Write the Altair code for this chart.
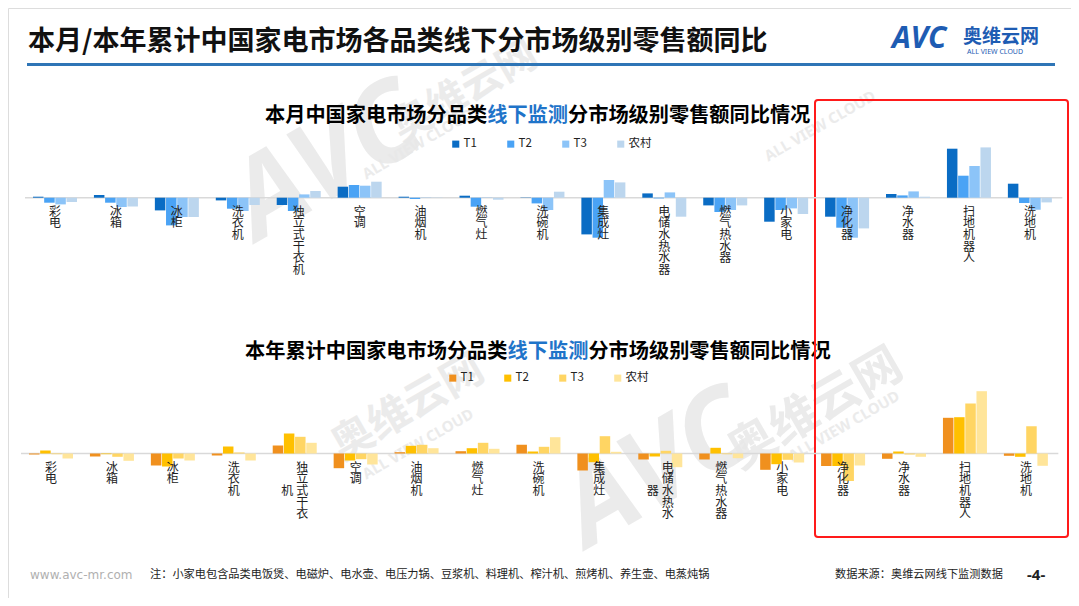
import altair as alt
import pandas as pd

# ---------------- data ----------------
categories = ["彩电", "冰箱", "冰柜", "洗衣机", "独立式干衣机", "空调", "油烟机", "燃气灶", "洗碗机",
              "集成灶", "电储水热水器", "燃气热水器", "小家电", "净化器", "净水器", "扫地机器人", "洗地机"]
series = ["T1", "T2", "T3", "农村"]

# 本月 (month) year-on-year values, per market tier
month_T1 = [1.0, 2.7, -12.7, -2.7, -7.3, 11.0, 1.0, 2.0, -0.3, -36.7, 4.3, -7.7, -24.0, -19.0, 3.7, 49.0, 14.0]
month_T2 = [-5.0, -5.0, -27.7, -11.0, -13.3, 12.7, -1.3, -9.0, -5.7, -40.0, -0.7, -14.3, -12.3, -30.0, 2.3, 22.0, -5.3]
month_T3 = [-6.7, -9.3, -19.3, -13.3, 3.3, 12.0, 0.3, -0.3, -12.3, 17.7, 5.3, -12.3, -10.7, -40.0, 6.3, 31.7, -12.0]
month_rural = [-4.3, -8.7, -19.3, -7.3, 6.7, 16.0, -0.3, -2.0, 6.0, 15.3, -19.0, -7.7, -16.3, -30.7, 1.0, 50.3, -4.7]

# 本年累计 (year to date) year-on-year values
ytd_T1 = [-1.0, -3.0, -12.0, -2.0, 8.0, -14.7, 1.3, 2.3, 8.7, -17.0, -6.0, -6.0, -16.3, -12.5, -5.3, 35.7, -2.3]
ytd_T2 = [3.0, -0.7, -13.0, 7.0, 20.0, -7.0, 7.7, 5.3, 2.0, -8.7, -3.0, 5.7, -10.7, -12.5, 2.0, 36.3, -3.3]
ytd_T3 = [-0.7, -3.3, -5.0, 1.0, 16.7, -5.7, 8.7, 10.7, 6.7, 17.3, 2.7, -0.7, -6.3, -27.5, -1.0, 50.0, 27.3]
ytd_rural = [-5.0, -7.3, -7.0, -7.0, 10.7, -11.0, 5.3, 4.7, 16.3, 1.7, -13.7, -4.7, -9.0, -12.0, -3.3, 62.3, -12.3]

main_title = "本月/本年累计中国家电市场各品类线下分市场级别零售额同比"
top_title = ["本月中国家电市场分品类", "线下监测", "分市场级别零售额同比情况"]
bottom_title = ["本年累计中国家电市场分品类", "线下监测", "分市场级别零售额同比情况"]
site_text = "www.avc-mr.com"
note_text = "注：小家电包含品类电饭煲、电磁炉、电水壶、电压力锅、豆浆机、料理机、榨汁机、煎烤机、养生壶、电蒸炖锅"
source_text = "数据来源：奥维云网线下监测数据"
page_text = "-4-"
logo_mark = "AVC"
logo_cn = "奥维云网"
logo_en = "ALL VIEW CLOUD"

blues = ["#0a6cc4", "#4aa3f5", "#8cc4f8", "#bcd6ee"]
oranges = ["#f0901e", "#ffc000", "#ffd563", "#ffe59a"]

W, H = 1063, 590
FONT = "Noto Sans CJK SC"
LH = 11.7


def long_df(vals):
    rows = []
    for s, arr in zip(series, vals):
        for c, v in zip(categories, arr):
            rows.append({"cat": c, "series": s, "value": v})
    return pd.DataFrame(rows)


def one(text):
    return pd.DataFrame({"t": [text]})


def text_layer(text, x, y, size, color="#000", bold=False, align="left", italic=False,
               font=FONT, angle=None, opacity=None):
    kw = dict(align=align, baseline="middle", fontSize=size, color=color, font=font)
    if bold:
        kw["fontWeight"] = "bold"
    if italic:
        kw["fontStyle"] = "italic"
    if angle is not None:
        kw["angle"] = angle
    if opacity is not None:
        kw["opacity"] = opacity
    return alt.Chart(one(text)).mark_text(**kw).encode(
        text="t:N", x=alt.value(x), y=alt.value(y))


def vert(s):
    return "\n".join(list(s))


def panel(vals, colors, base_y, x_start, legend_x, legend_y, split_labels):
    step = 60.93
    band = 44.0
    pi = 1 - band / step
    po = pi / 2
    r0 = x_start - po * step
    r1 = r0 + len(categories) * step
    xscale = alt.Scale(domain=categories, range=[r0, r1], paddingInner=pi, paddingOuter=po)
    yscale = alt.Scale(domain=[base_y - H, base_y], nice=False, zero=False)
    x = alt.X("cat:N", sort=categories, scale=xscale, axis=None)

    df = long_df(vals)
    bars = alt.Chart(df).mark_bar().encode(
        x=x,
        xOffset=alt.XOffset("series:N", sort=series, scale=alt.Scale(domain=series, paddingInner=0.06)),
        y=alt.Y("value:Q", scale=yscale, axis=None),
        color=alt.Color("series:N", sort=series,
                        scale=alt.Scale(domain=series, range=colors),
                        legend=alt.Legend(orient="none", legendX=legend_x, legendY=legend_y,
                                          direction="horizontal", title=None, symbolType="square",
                                          symbolSize=50, symbolStrokeWidth=0, labelFontSize=11.5,
                                          labelFont=FONT, labelColor="#222", columnPadding=28,
                                          labelOffset=2, padding=0)),
    )
    rule = alt.Chart(one("b")).mark_rule(color="#d9d9d9", strokeWidth=1.5).encode(
        x=alt.value(x_start - 8), x2=alt.value(r1 + 2),
        y=alt.Y(datum=0, scale=yscale, axis=None))

    normal = [c for c in categories if c not in split_labels]
    lab_df = pd.DataFrame({"cat": normal, "txt": [vert(c) for c in normal]})
    labels = alt.Chart(lab_df).mark_text(
        lineBreak="\n", baseline="top", dy=9, fontSize=12, lineHeight=LH, font=FONT, color="#222"
    ).encode(x=x, y=alt.Y(datum=0, scale=yscale, axis=None), text="txt:N")
    layers = [rule, bars, labels]
    if split_labels:
        main_df = pd.DataFrame({"cat": split_labels, "txt": [vert(c[:-1]) for c in split_labels]})
        extra_df = pd.DataFrame({"cat": split_labels, "txt": [c[-1] for c in split_labels]})
        layers.append(alt.Chart(main_df).mark_text(
            lineBreak="\n", baseline="top", dy=9, dx=7.5, fontSize=12, lineHeight=LH, font=FONT, color="#222"
        ).encode(x=x, y=alt.Y(datum=0, scale=yscale, axis=None), text="txt:N"))
        layers.append(alt.Chart(extra_df).mark_text(
            baseline="top", dy=9 + 2 * LH, dx=-7.5, fontSize=12, font=FONT, color="#222"
        ).encode(x=x, y=alt.Y(datum=0, scale=yscale, axis=None), text="txt:N"))
    return alt.layer(*layers)


def title_segments(parts, x0, y, size):
    layers = []
    x = x0
    for i, p in enumerate(parts):
        col = "#1f74c9" if i == 1 else "#000"
        layers.append(text_layer(p, x, y, size, color=col, bold=True))
        x += len(p) * size
    return layers


WM = "#e8e8e8"


def wm(text, x, y, size, font=FONT, italic=False):
    return text_layer(text, x, y, size, color=WM, bold=True, italic=italic, font=font,
                      align="center", angle=330, opacity=0.85)


watermarks = [
    wm(logo_mark, 320, 155, 110, font="Noto Sans", italic=True),
    wm(logo_cn, 457, 84, 40),
    wm(logo_en, 410, 136, 15, font="Noto Sans"),
    wm(logo_en, 812, 118, 15, font="Noto Sans"),
    wm(logo_cn, 400, 400, 42),
    wm(logo_en, 410, 436, 15, font="Noto Sans"),
    wm(logo_mark, 650, 462, 110, font="Noto Sans", italic=True),
    wm(logo_cn, 808, 402, 48),
    wm(logo_en, 836, 418, 15, font="Noto Sans"),
]

top_panel = panel([month_T1, month_T2, month_T3, month_rural], blues, 189.7, 25.0, 442, 130, [])
bottom_panel = panel([ytd_T1, ytd_T2, ytd_T3, ytd_rural], oranges, 445.5, 21.0, 439, 364,
                     ["独立式干衣机", "电储水热水器"])

header_line = alt.Chart(one("l")).mark_rule(color="#2e75b6", strokeWidth=3).encode(
    x=alt.value(19), x2=alt.value(1047), y=alt.value(56.5))
red_box = alt.Chart(one("r")).mark_rect(stroke="#ff1a1a", strokeWidth=2, fillOpacity=0, cornerRadius=3).encode(
    x=alt.value(807), x2=alt.value(1060), y=alt.value(92), y2=alt.value(529))

decor = [
    *watermarks,
    text_layer(main_title, 20, 34, 27, color="#111", bold=True),
    header_line,
    text_layer(logo_mark, 884, 31, 30, color="#1e5cb3", bold=True, italic=True, font="Noto Sans"),
    text_layer(logo_cn, 955, 29, 19, color="#1e5cb3", bold=True),
    text_layer(logo_en, 959, 43.5, 7, color="#1e5cb3", font="Noto Sans"),
    *title_segments(top_title, 257, 108, 20.2),
    *title_segments(bottom_title, 237, 344, 20.2),
    text_layer(site_text, 22, 567, 12, color="#b0b0b0", font="DejaVu Sans"),
    text_layer(note_text, 142, 567, 11.2, color="#222"),
    text_layer(source_text, 827, 567, 11.2, color="#222"),
    text_layer(page_text, 1019, 567, 15, color="#222", bold=True, font="Noto Sans"),
    red_box,
]

chart = alt.layer(*decor, top_panel, bottom_panel).resolve_scale(
    x="independent", y="independent", color="independent", xOffset="independent"
).properties(
    width=W, height=H, autosize=alt.AutoSizeParams(type="none"), padding=0
).configure_view(stroke=None).configure(background="white")

chart.save("out.html", embed_options={"renderer": "svg", "actions": False})
